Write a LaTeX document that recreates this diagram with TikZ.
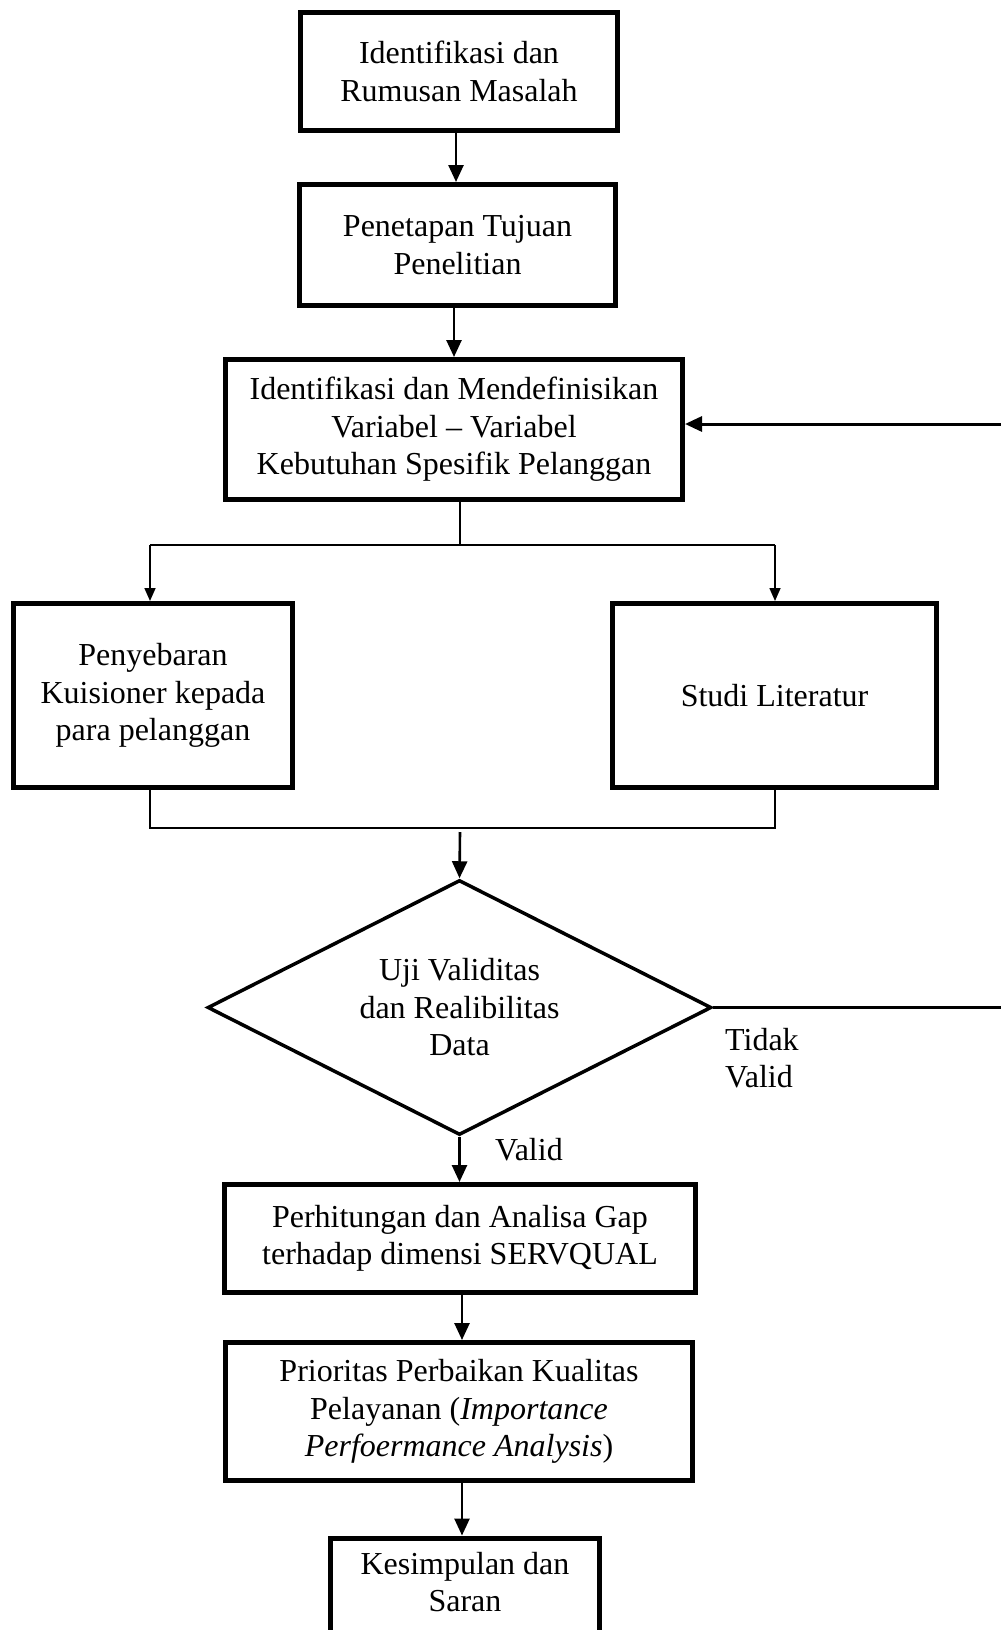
\documentclass[tikz,border=0pt]{standalone}
\usepackage{fontspec}
\setmainfont{Liberation Serif}
\usetikzlibrary{shapes.geometric,arrows.meta}
\begin{document}
\begin{tikzpicture}[x=1pt,y=-1pt,
  txt/.style={font=\fontsize{32}{37.5}\selectfont, align=center, inner sep=0pt},
  boxst/.style={txt, draw, line width=5pt, rectangle},
  decst/.style={txt, draw, line width=3.5pt, diamond, aspect=1.96},
  arr/.style={line width=2.6pt, -{Triangle[length=17pt,width=15pt]}},
  thinln/.style={line width=1.6pt},
  thinarr/.style={line width=1.6pt, -{Triangle[length=13pt,width=11pt]}},
  fbln/.style={line width=3pt}]
\useasboundingbox (0,0) rectangle (1001,1630);
\clip (0,0) rectangle (1001,1630);
\fill[white] (0,0) rectangle (1001,1630);

\node[boxst, minimum width=317pt, minimum height=118pt] (b1) at (459,71.5) {Identifikasi dan\\Rumusan Masalah};
\node[boxst, minimum width=316pt, minimum height=121pt] (b2) at (457.5,245) {Penetapan Tujuan\\Penelitian};
\node[boxst, minimum width=457pt, minimum height=140pt] (b3) at (454,429.5) {Identifikasi dan Mendefinisikan\\Variabel – Variabel\\Kebutuhan Spesifik Pelanggan};
\node[boxst, minimum width=279pt, minimum height=184pt] (L) at (153,695.5) {Penyebaran\\Kuisioner kepada\\para pelanggan};
\node[boxst, minimum width=324pt, minimum height=184pt] (R) at (774.5,695.5) {Studi Literatur};
\node[decst, minimum width=504pt, minimum height=255pt] (dia) at (459.5,1007.5) {Uji Validitas\\dan Realibilitas\\Data};
\node[boxst, minimum width=471pt, minimum height=108pt] (b4) at (460,1238.5) {Perhitungan dan Analisa Gap\\terhadap dimensi SERVQUAL};
\node[boxst, minimum width=467pt, minimum height=138pt] (b5) at (459,1411.5) {Prioritas Perbaikan Kualitas\\Pelayanan (\textit{Importance}\\\textit{Perfoermance Analysis})};
\node[boxst, minimum width=269pt, minimum height=200pt, anchor=north] (kes) at (465,1535.5) {};
\node[txt] (kestext) at (465,1582) {Kesimpulan dan\\Saran};

\node[txt, align=left, anchor=west] (tidak) at (725,1058) {Tidak\\Valid};
\node[txt, anchor=west] (valid) at (495,1150) {Valid};

% main arrows
\draw[arr] (b1.south -| 456,0) -- (b2.north -| 456,0);
\draw[arr] (b2.south -| b3.north) -- (b3.north);

% feedback
\coordinate (fbR) at (1001,424);
\draw[fbln, -{Triangle[length=17pt,width=15pt]}] (fbR) -- (fbR -| b3.east);

% split
\coordinate (split) at (460,545);
\draw[thinln] (b3.south -| split) -- (split);
\coordinate (lTop) at (150,545);
\coordinate (rTop) at (775,545);
\draw[thinln] (lTop) -- (rTop);
\draw[thinarr] (lTop) -- (lTop |- L.north);
\draw[thinarr] (rTop) -- (rTop |- R.north);

% merge
\coordinate (merge) at (460,828);
\draw[thinln] (L.south -| lTop) |- (merge);
\draw[thinln] (R.south -| rTop) |- (merge);
\draw[arr] (460,832) -- (dia.north);

% decision outputs
\draw[fbln] (dia.east) -- (dia.east -| fbR);
\draw[arr] (dia.south) -- (dia.south |- b4.north);
\draw[arr] (b4.south -| 462,0) -- (b5.north -| 462,0);
\draw[arr] (b5.south -| 462,0) -- (kes.north -| 462,0);
\end{tikzpicture}
\end{document}
